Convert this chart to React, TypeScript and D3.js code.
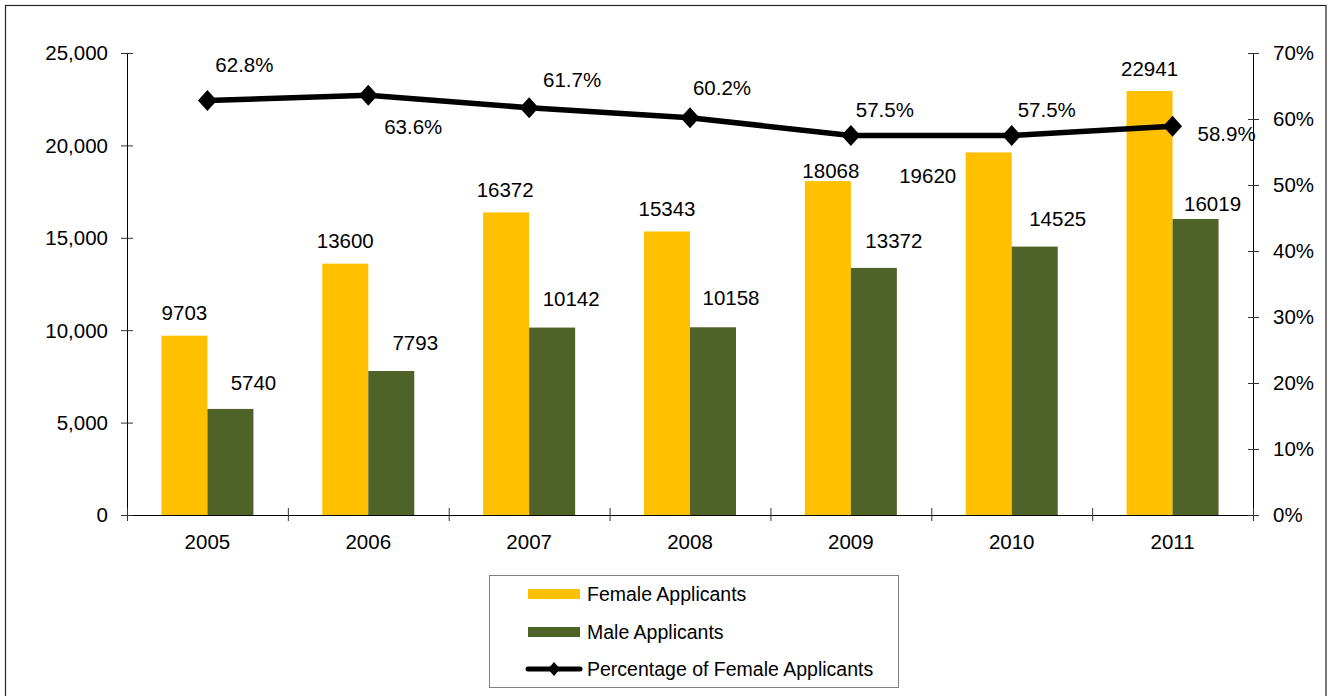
import React from "react";
import * as d3 from "d3";

const years = ["2005", "2006", "2007", "2008", "2009", "2010", "2011"];
const femaleApplicants = [9703, 13600, 16372, 15343, 18068, 19620, 22941];
const maleApplicants = [5740, 7793, 10142, 10158, 13372, 14525, 16019];
const femalePct = [62.8, 63.6, 61.7, 60.2, 57.5, 57.5, 58.9];
const leftTicks = [0, 5000, 10000, 15000, 20000, 25000];
const rightTicks = [0, 10, 20, 30, 40, 50, 60, 70];
const seriesNames = ["Female Applicants", "Male Applicants", "Percentage of Female Applicants"];

// label placement nudges (layout only)
const femaleLabelDx = [0, 0, -1, 0, 3, -61, 0];
const femaleLabelDy = [-16, -16, -15, -15, -3, 31, -15];
const maleLabelDx = [23, 24, 19, 18, 20, 23, 17];
const maleLabelDy = [-19, -21, -22, -22, -20, -21, -8];
const pctLabelDx = [37, 45, 43, 32, 34, 35, 54];
const pctLabelDy = [-29, 39, -21, -23, -19, -19, 15];

const W = 1330;
const H = 696;
const FONT = "'Liberation Sans', Arial, sans-serif";
const FEMALE = "#FFC000";
const MALE = "#4F6228";

export default function App() {
  const left = 127, right = 1253, top = 53, bottom = 515;
  const x = d3.scaleBand<string>().domain(years).range([left, right]).paddingInner(0).paddingOuter(0);
  const yL = d3.scaleLinear().domain([0, 25000]).range([bottom, top]);
  const yR = d3.scaleLinear().domain([0, 70]).range([bottom, top]);
  const bw = x.bandwidth() * 0.286;
  const cx = (y: string) => (x(y) as number) + x.bandwidth() / 2;
  const line = d3.line<number>().x((_, i) => cx(years[i])).y((d) => yR(d));
  const fmt = d3.format(",");
  const diamond = (s: number, h: number) => `M0,${-h} L${s},0 L0,${h} L${-s},0 Z`;
  const boundaries = [...years.map((y) => x(y) as number), right];

  return (
    <svg width={W} height={H} style={{ position: "absolute", left: 0, top: 0, background: "#fff" }} fontFamily={FONT}>
      <rect x={0} y={0} width={W} height={H} fill="#fff" />
      <rect x={5.5} y={5.5} width={1320.5} height={720} fill="none" stroke="#222" strokeWidth={1.2} />

      {/* bars */}
      {years.map((y, i) => (
        <g key={y}>
          <rect x={cx(y) - bw} y={yL(femaleApplicants[i])} width={bw} height={bottom - yL(femaleApplicants[i])} fill={FEMALE} />
          <rect x={cx(y)} y={yL(maleApplicants[i])} width={bw} height={bottom - yL(maleApplicants[i])} fill={MALE} />
        </g>
      ))}

      {/* axes */}
      <line x1={left + 0.5} x2={left + 0.5} y1={top} y2={bottom} stroke="#000" />
      <line x1={right + 0.5} x2={right + 0.5} y1={top} y2={bottom} stroke="#000" />
      <line x1={left} x2={right + 1} y1={bottom + 0.5} y2={bottom + 0.5} stroke="#000" />
      {leftTicks.map((t) => (
        <g key={"l" + t}>
          <line x1={left - 6} x2={left + 6} y1={yL(t) + 0.5} y2={yL(t) + 0.5} stroke="#333" />
          <text x={108} y={yL(t)} dy="0.36em" textAnchor="end" fontSize={20.5} fill="#000">{fmt(t)}</text>
        </g>
      ))}
      {rightTicks.map((t) => (
        <g key={"r" + t}>
          <line x1={right - 5} x2={right + 6} y1={yR(t) + 0.5} y2={yR(t) + 0.5} stroke="#333" />
          <text x={1273} y={yR(t)} dy="0.36em" textAnchor="start" fontSize={20.5} fill="#000">{t + "%"}</text>
        </g>
      ))}
      {boundaries.map((b, i) => (
        <line key={"b" + i} x1={b + 0.5} x2={b + 0.5} y1={bottom - 7} y2={bottom + 6} stroke="#333" />
      ))}
      {years.map((y) => (
        <text key={"y" + y} x={cx(y)} y={bottom + 34} textAnchor="middle" fontSize={20.5} fill="#000">{y}</text>
      ))}

      {/* bar labels */}
      {years.map((y, i) => (
        <g key={"lab" + y} fontSize={20.5} fill="#000" textAnchor="middle">
          <text x={cx(y) - bw / 2 + femaleLabelDx[i]} y={yL(femaleApplicants[i]) + femaleLabelDy[i]}>{femaleApplicants[i]}</text>
          <text x={cx(y) + bw / 2 + maleLabelDx[i]} y={yL(maleApplicants[i]) + maleLabelDy[i]}>{maleApplicants[i]}</text>
        </g>
      ))}

      {/* line */}
      <path d={line(femalePct) || ""} fill="none" stroke="#000" strokeWidth={5.5} strokeLinejoin="round" />
      {years.map((y, i) => (
        <path key={"m" + y} d={diamond(9.5, 10.5)} transform={`translate(${cx(y)},${yR(femalePct[i])})`} fill="#000" />
      ))}
      {years.map((y, i) => (
        <text key={"p" + y} x={cx(y) + pctLabelDx[i]} y={yR(femalePct[i]) + pctLabelDy[i]} textAnchor="middle" fontSize={20.5} fill="#000">
          {femalePct[i].toFixed(1) + "%"}
        </text>
      ))}

      {/* legend */}
      <rect x={489.5} y={575.5} width={409} height={112} fill="#fff" stroke="#808080" strokeWidth={1} />
      <rect x={528} y={589} width={52} height={10} fill={FEMALE} />
      <text x={587} y={594} dy="0.36em" fontSize={19.5} fill="#000">{seriesNames[0]}</text>
      <rect x={528} y={627} width={52} height={10} fill={MALE} />
      <text x={587} y={632} dy="0.36em" fontSize={19.5} fill="#000">{seriesNames[1]}</text>
      <line x1={528} x2={580} y1={669} y2={669} stroke="#000" strokeWidth={5} strokeLinecap="round" />
      <path d={diamond(6, 7)} transform="translate(554,669)" fill="#000" />
      <text x={587} y={669} dy="0.36em" fontSize={19.5} fill="#000">{seriesNames[2]}</text>
    </svg>
  );
}
